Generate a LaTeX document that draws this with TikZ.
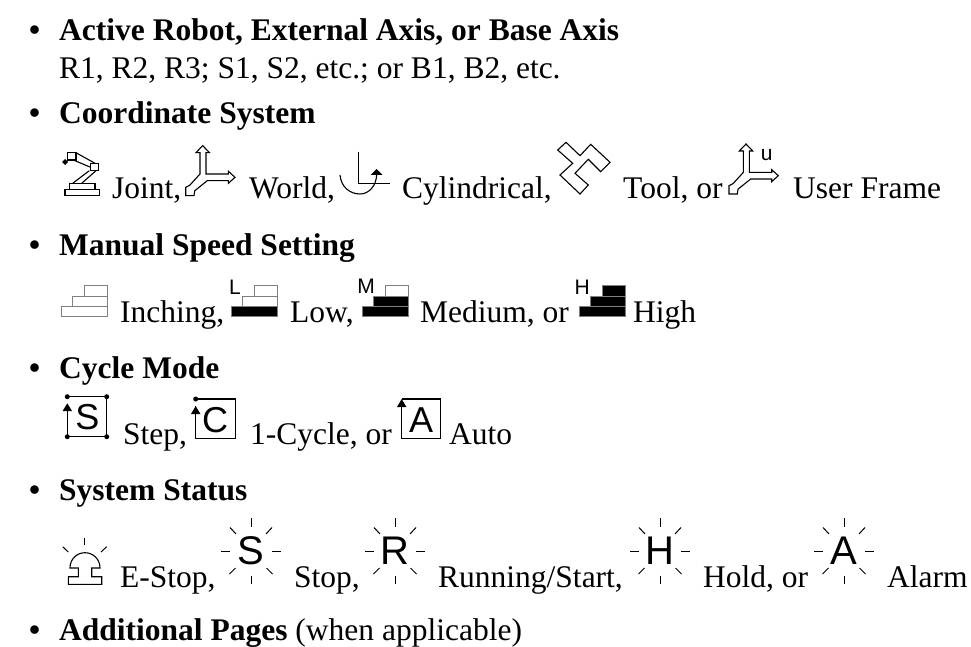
\documentclass[tikz,border=0pt]{standalone}
\usepackage{fontspec}
\setmainfont{Liberation Serif}
\setsansfont{Liberation Sans}
\usepackage{tikz}

\tikzset{
    bodytext/.style={anchor=base west, inner sep=0pt, font=\fontsize{31.5}{36}\selectfont},
    headtext/.style={bodytext, font=\fontsize{31.5}{36}\selectfont\bfseries},
    smalltag/.style={inner sep=0pt, font=\fontsize{21}{24}\selectfont\sffamily},
    boxtag/.style={inner sep=0pt, font=\fontsize{36}{40}\selectfont\sffamily},
    sparktag/.style={inner sep=0pt, font=\fontsize{40}{44}\selectfont\sffamily},
    stepbox/.style={draw=black!50, line width=1pt},
    dot/.style={circle, fill, inner sep=0pt, minimum size=5pt},
    axes/.pic={
        \draw[line width=1.1pt, line join=miter] (0,-31.7) -- (6.7,-24.7) -- (3.3,-24.7) -- (3.3,-3.3) -- (25.7,-3.3)
            -- (25.7,-6) -- (32.3,0) -- (25.7,6) -- (25.7,3.3) -- (4.7,3.3) -- (-8,13.5) -- (-8.7,18.3)
            -- (-17,18.3) -- (-17,10) -- (-13,8) -- (-2.7,-3.3) -- (-2.7,-24.7) -- (-6.7,-24.7) -- cycle;
    },
    spark/.pic={
        \foreach \xa/\ya/\xb/\yb in {0/-32.7/0/-23.7, 0/24.7/0/33, -30/0/-21/0, 21/0/30/0,
            -21/-23.5/-15/-17, 21/-23.5/15/-17, -21.5/23/-15.5/17, 21.5/23/15.5/17}
            \draw[line width=1pt] (\xa,\ya) -- (\xb,\yb);
    }
}

\begin{document}
\begin{tikzpicture}[x=1pt, y=-1pt]
    \useasboundingbox (0,0) rectangle (971,647);

    \foreach \yb in {41,124,255,378,500,640}
        \draw (29,\yb) node[headtext]{•};

    \draw (59,41) node(active)[headtext]{Active Robot, External Axis, or Base Axis};
    \draw (59,79) node(activelist)[bodytext]{R1, R2, R3; S1, S2, etc.; or B1, B2, etc.};
    \draw (59,124) node(coord)[headtext]{Coordinate System};
    \draw (59,255) node(speed)[headtext]{Manual Speed Setting};
    \draw (59,378) node(cycle)[headtext]{Cycle Mode};
    \draw (59,500) node(status)[headtext]{System Status};
    \draw (59,640) node(pages)[headtext]{Additional Pages \textmd{(when applicable)}};

    \draw (112,198) node(joint)[bodytext]{Joint,};
    \draw (249,198) node(world)[bodytext]{World,};
    \draw (402,198) node(cyl)[bodytext]{Cylindrical,};
    \draw (623,198) node(tool)[bodytext]{Tool, or};
    \draw (793,198) node(user)[bodytext]{User Frame};

    % joint robot
    \draw[line width=1.1pt] (65,189.3) rectangle (99.3,195.3);
    \draw[line width=1.1pt] (69.3,183.3) rectangle (95,189.3);
    \draw[line width=1.1pt] (67.3,152.7) rectangle (76,160);
    \draw[line width=1.1pt] (90.7,163.3) rectangle (98.7,170.7);
    \draw[line width=1.1pt] (76,152.7) -- (95,163.3);
    \draw[line width=1.1pt] (73.3,160) -- (90.7,167.3);
    \draw[line width=1.1pt] (89.3,170.7) -- (72.7,183.3);
    \draw[line width=1.1pt] (96,170.7) -- (81.7,183.3);
    \fill (65,159) -- (68,162) -- (65,165) -- (62,162) -- cycle;

    \pic at (202.7,177.3) {axes};
    \pic at (746,175.7) {axes};
    \draw (766.7,155) node(utag)[smalltag]{u};

    % cylindrical
    \draw[line width=1.1pt] (358.3,151.7) -- (358.3,183.3) -- (390,183.3);
    \draw[line width=1.1pt] (340,175) .. controls (341,187) and (350,194) .. (360,194)
        .. controls (369,194) and (376,186) .. (376.7,175);
    \fill (370.7,175) -- (382.7,175) -- (376.7,169) -- cycle;

    % tool
    \draw[line width=1.1pt] (566,142.3) -- (580,155.7) -- (590.7,144.3) -- (610,162.3) -- (600.7,171.7)
        -- (588.3,159.3) -- (575,173.3) -- (588.3,185) -- (580,194) -- (560,175) -- (572.7,163.3)
        -- (557.7,150) -- cycle;

    \draw (120,322) node(inching)[bodytext]{Inching,};
    \draw (290,322) node(low)[bodytext]{Low,};
    \draw (420,322) node(medium)[bodytext]{Medium, or};
    \draw (633,322) node(high)[bodytext]{High};

    \foreach \dx/\fa/\fb/\fc in {0/white/white/white, 170/black/white/white, 300.7/black/black/white, 518/black/black/black} {
        \draw[stepbox, fill=\fa] ({61.7+\dx},306.7) rectangle ({107.3+\dx},316.7);
        \draw[stepbox, fill=\fb] ({72.7+\dx},296) rectangle ({107.3+\dx},306.7);
        \draw[stepbox, fill=\fc] ({84.3+\dx},285.7) rectangle ({107.3+\dx},296);
    }
    \draw (235,287) node(ltag)[smalltag]{L};
    \draw (366,286) node(mtag)[smalltag]{M};
    \draw (582.3,287.3) node(htag)[smalltag]{H};

    \draw (123,444) node(stepmode)[bodytext]{Step,};
    \draw (250,444) node(onecycle)[bodytext]{1-Cycle, or};
    \draw (449,444) node(auto)[bodytext]{Auto};

    % cycle boxes
    \draw[line width=1.1pt] (67.3,404) -- (67.3,436.7) -- (106.7,436.7) -- (106.7,396.7) -- (67.3,396.7);
    \fill (62.6,411) -- (72,411) -- (67.3,403.3) -- cycle;
    \draw (67.3,396.7) node(sa)[dot]{};
    \draw (106.7,396.7) node(sb)[dot]{};
    \draw (106.7,436.7) node(sc)[dot]{};
    \draw (67.3,436.7) node(sd)[dot]{};
    \draw (87.3,417) node(stag)[boxtag]{S};

    \draw[line width=1.1pt] (195.7,406) -- (195.7,438.3) -- (235.7,438.3) -- (235.7,399) -- (195.7,399);
    \fill (191,414) -- (200.4,414) -- (195.7,406) -- cycle;
    \draw (195.7,399) node(ca)[dot]{};
    \draw (215,420) node(ctag)[boxtag]{C};

    \draw[line width=1.1pt] (401.7,405) -- (401.7,438.3) -- (440.7,438.3) -- (440.7,399) -- (401.7,399);
    \fill (397,407) -- (406.4,407) -- (401.7,399) -- cycle;
    \draw (421,420) node(atag)[boxtag]{A};

    \draw (120,587) node(estop)[bodytext]{E-Stop,};
    \draw (294,587) node(stopped)[bodytext]{Stop,};
    \draw (438,587) node(running)[bodytext]{Running/Start,};
    \draw (703,587) node(hold)[bodytext]{Hold, or};
    \draw (887,587) node(alarm)[bodytext]{Alarm};

    % e-stop lamp
    \draw[line width=1.1pt] (70,568) .. controls (70,559) and (77,552.7) .. (85,552.7)
        .. controls (93,552.7) and (100,559) .. (100,568) -- (91.7,568) -- (91.7,576.7) -- (101.7,576.7)
        -- (101.7,584.3) -- (68.3,584.3) -- (68.3,576.7) -- (78.3,576.7) -- (78.3,568) -- cycle;
    \draw[line width=1pt] (84.7,538) -- (84.7,545);
    \draw[line width=1pt] (62.7,546.7) -- (68.3,552);
    \draw[line width=1pt] (106.7,546.7) -- (101,552);

    \foreach \cx/\letter in {251/S,395/R,660/H,844/A} {
        \draw (\cx,551) node(lamp\letter)[sparktag]{\letter};
        \pic at (\cx,551) {spark};
    }
\end{tikzpicture}
\end{document}
